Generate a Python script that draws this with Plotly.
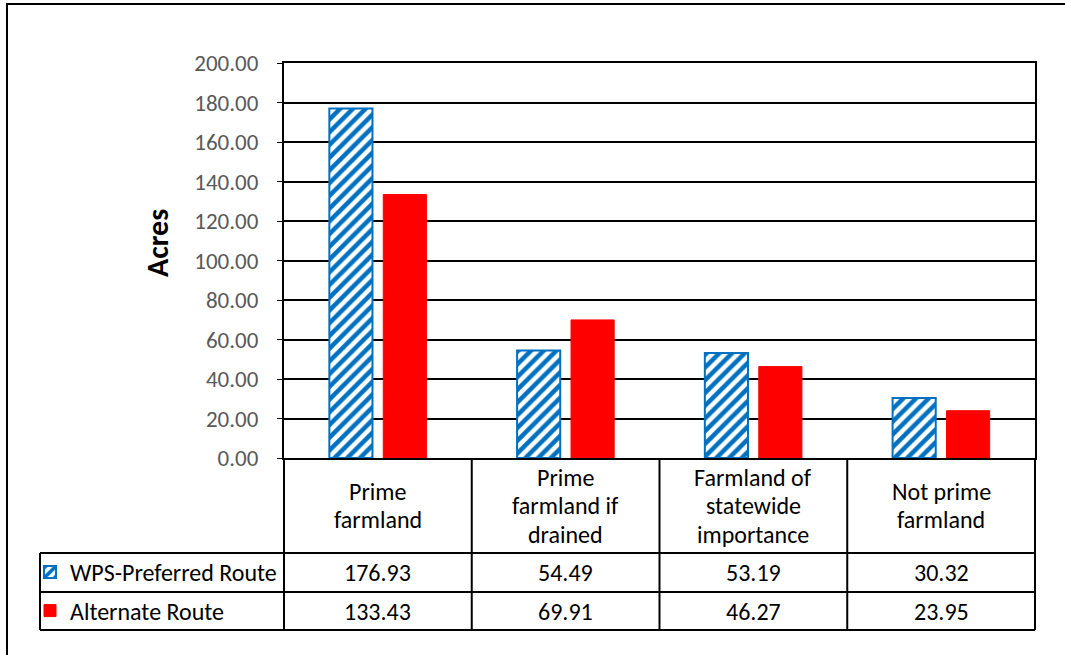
import plotly.graph_objects as go

categories = ["Prime\nfarmland", "Prime\nfarmland if\ndrained", "Farmland of\nstatewide\nimportance", "Not prime\nfarmland"]
series_names = ["WPS-Preferred Route", "Alternate Route"]
wps_values = [176.93, 54.49, 53.19, 30.32]
alt_values = [133.43, 69.91, 46.27, 23.95]
y_ticks = [0, 20, 40, 60, 80, 100, 120, 140, 160, 180, 200]

W, H = 1065, 655
L, R, T, B = 284, 1035, 63, 458
ROW_CAT_BOTTOM, ROW1_BOTTOM, ROW2_BOTTOM = 553, 592, 630
LEG_LEFT = 40
FONT = "Calibri, Carlito, Open Sans"
TXT = 24
TICK = 23
LINE_H = 28.5


def px(x):
    return (x - L) / (R - L)


def py(y):
    return (B - y) / (B - T)


xpos = list(range(len(categories)))

fig = go.Figure()
fig.add_trace(go.Bar(
    x=xpos, y=wps_values, name=series_names[0], legend="legend", showlegend=True,
    marker=dict(color="white", line=dict(color="#0070C0", width=2),
                pattern=dict(shape="/", fgcolor="#0070C0", bgcolor="white", fgopacity=1,
                             size=9, solidity=0.5, fillmode="replace")),
))
fig.add_trace(go.Bar(
    x=xpos, y=alt_values, name=series_names[1], legend="legend2", showlegend=True,
    marker=dict(color="#FF0000", line=dict(color="#FF0000", width=1)),
))

shapes = []
line = dict(color="black", width=2)
# outer border
shapes.append(dict(type="rect", xref="paper", yref="paper", x0=px(7), x1=px(1080),
                   y0=py(4), y1=py(670), line=line))
# table vertical borders
for xv in [L, R]:
    shapes.append(dict(type="line", xref="paper", yref="paper", x0=px(xv), x1=px(xv),
                       y0=py(B), y1=py(ROW2_BOTTOM), line=line))
for i in range(len(categories) - 1):
    shapes.append(dict(type="line", xref="x", yref="paper", x0=i + 0.5, x1=i + 0.5,
                       y0=py(B), y1=py(ROW2_BOTTOM), line=line))
# table horizontal borders
for yv in [ROW_CAT_BOTTOM, ROW1_BOTTOM, ROW2_BOTTOM]:
    shapes.append(dict(type="line", xref="paper", yref="paper", x0=px(LEG_LEFT), x1=px(R),
                       y0=py(yv), y1=py(yv), line=line))
shapes.append(dict(type="line", xref="paper", yref="paper", x0=px(LEG_LEFT), x1=px(LEG_LEFT),
                   y0=py(ROW_CAT_BOTTOM), y1=py(ROW2_BOTTOM), line=line))

annotations = []
cat_mid = (B + ROW_CAT_BOTTOM) / 2
for i, c in enumerate(categories):
    lines = c.split("\n")
    n = len(lines)
    for k, t in enumerate(lines):
        yc = cat_mid + (k - (n - 1) / 2) * LINE_H
        annotations.append(dict(x=i, xref="x", y=py(yc), yref="paper",
                                text=t, showarrow=False, yanchor="middle",
                                font=dict(family=FONT, size=TXT, color="black")))
    annotations.append(dict(x=i, xref="x", y=py((ROW_CAT_BOTTOM + ROW1_BOTTOM) / 2), yref="paper",
                            text=f"{wps_values[i]:.2f}", showarrow=False, yanchor="middle",
                            font=dict(family=FONT, size=TXT, color="black")))
    annotations.append(dict(x=i, xref="x", y=py((ROW1_BOTTOM + ROW2_BOTTOM) / 2), yref="paper",
                            text=f"{alt_values[i]:.2f}", showarrow=False, yanchor="middle",
                            font=dict(family=FONT, size=TXT, color="black")))
annotations.append(dict(x=px(157), xref="paper", y=py(243), yref="paper", text="<b>Acres</b>",
                        textangle=-90, showarrow=False, xanchor="center", yanchor="middle",
                        font=dict(family=FONT, size=30, color="black")))

legend_common = dict(xref="paper", yref="paper", xanchor="left", yanchor="middle",
                     bgcolor="rgba(0,0,0,0)", borderwidth=0,
                     font=dict(family=FONT, size=TXT, color="black"))

fig.update_layout(
    width=W, height=H,
    margin=dict(l=L, r=W - R, t=T, b=H - B),
    paper_bgcolor="white", plot_bgcolor="white",
    showlegend=True,
    barmode="group", bargap=0.4255, bargroupgap=0.2,
    xaxis=dict(range=[-0.5, len(categories) - 0.5], showticklabels=False, showgrid=False,
               zeroline=False, showline=True, mirror=True, linecolor="black", linewidth=2,
               ticks=""),
    yaxis=dict(range=[0, 200], tickvals=y_ticks, tickformat=".2f", showgrid=True,
               gridcolor="black", gridwidth=1.5, zeroline=False, showline=True, mirror=True,
               linecolor="black", linewidth=2, ticks="outside", ticklen=5, tickcolor="black",
               ticklabelstandoff=14,
               tickfont=dict(family=FONT, size=TICK, color="#595959")),
    legend=dict(x=px(30), y=py((ROW_CAT_BOTTOM + ROW1_BOTTOM) / 2), **legend_common),
    legend2=dict(x=px(30), y=py((ROW1_BOTTOM + ROW2_BOTTOM) / 2), **legend_common),
    shapes=shapes, annotations=annotations,
)

fig.write_html("out.html")
